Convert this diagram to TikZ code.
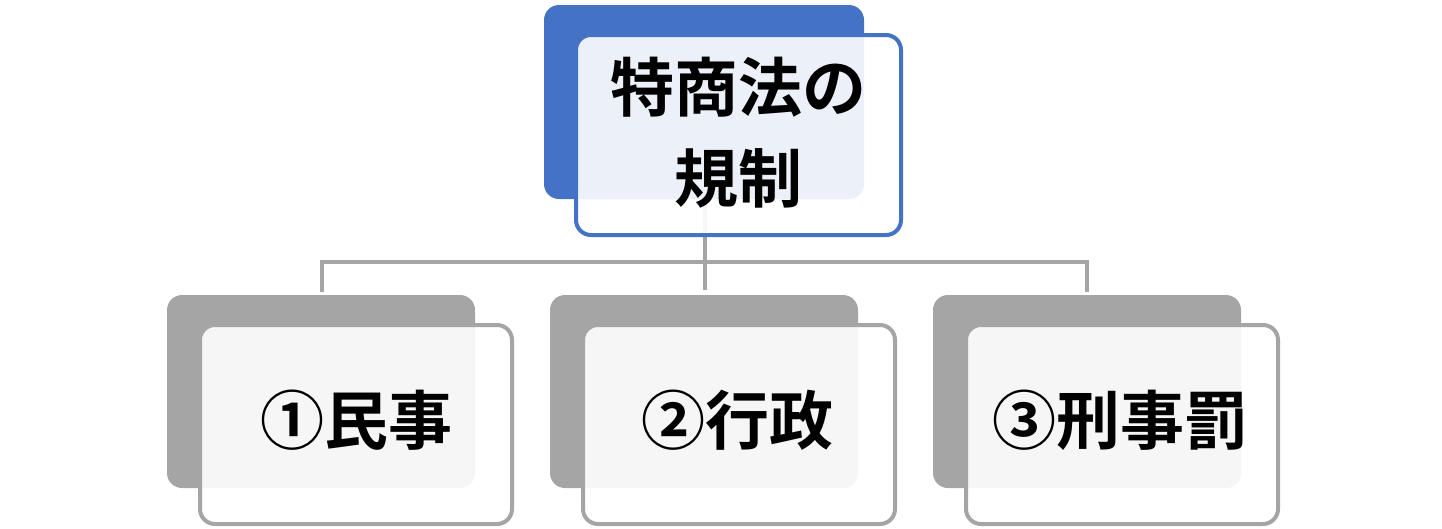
\documentclass[tikz,border=0pt]{standalone}
\usepackage{fontspec}
\newfontfamily\cjk{Noto Sans CJK JP Bold}
\definecolor{blueA}{HTML}{4472C4}
\definecolor{grayA}{HTML}{A5A5A5}
\begin{document}
\begin{tikzpicture}[x=1pt,y=-1pt,
  backbox/.style={rounded corners=15pt},
  frontbox/.style={rounded corners=15pt, line width=4pt, fill=white, fill opacity=0.9},
  conn/.style={draw=grayA, line width=4pt},
  lbl/.style={font=\cjk\fontsize{64}{91}\selectfont, align=center, inner sep=0pt, text=black}]
\useasboundingbox (0,0) rectangle (1442,528);
% top box
\fill[blueA, backbox] (544,5) rectangle (864,199);
% bottom back boxes
\fill[grayA, backbox] (167,295) rectangle (475,488);
\fill[grayA, backbox] (550,295) rectangle (858,488);
\fill[grayA, backbox] (933,295) rectangle (1241,488);
% connectors
\coordinate (hub) at (705,262);
\coordinate (top) at (705,199);
\coordinate (l) at (322,262);
\coordinate (r) at (1087,262);
\coordinate (lb) at (322,290);
\coordinate (mb) at (705,290);
\coordinate (rb) at (1087,290);
\draw[conn] (top) -- (mb);
\draw[conn, line cap=rect] (lb) -- (l) -- (r) -- (rb);
% front boxes
\draw[frontbox, draw=blueA] (576,35) rectangle (901,235);
\draw[frontbox, draw=grayA] (200,325) rectangle (512,524);
\draw[frontbox, draw=grayA] (583,325) rectangle (895,524);
\draw[frontbox, draw=grayA] (966,325) rectangle (1278,524);
% labels
\node[lbl] (t) at (738.5,133) {特商法の\\規制};
\node[lbl] (a) at (356,420) {①民事};
\node[lbl] (b) at (737,420) {②行政};
\node[lbl] (c) at (1120,420) {③刑事罰};
\end{tikzpicture}
\end{document}
